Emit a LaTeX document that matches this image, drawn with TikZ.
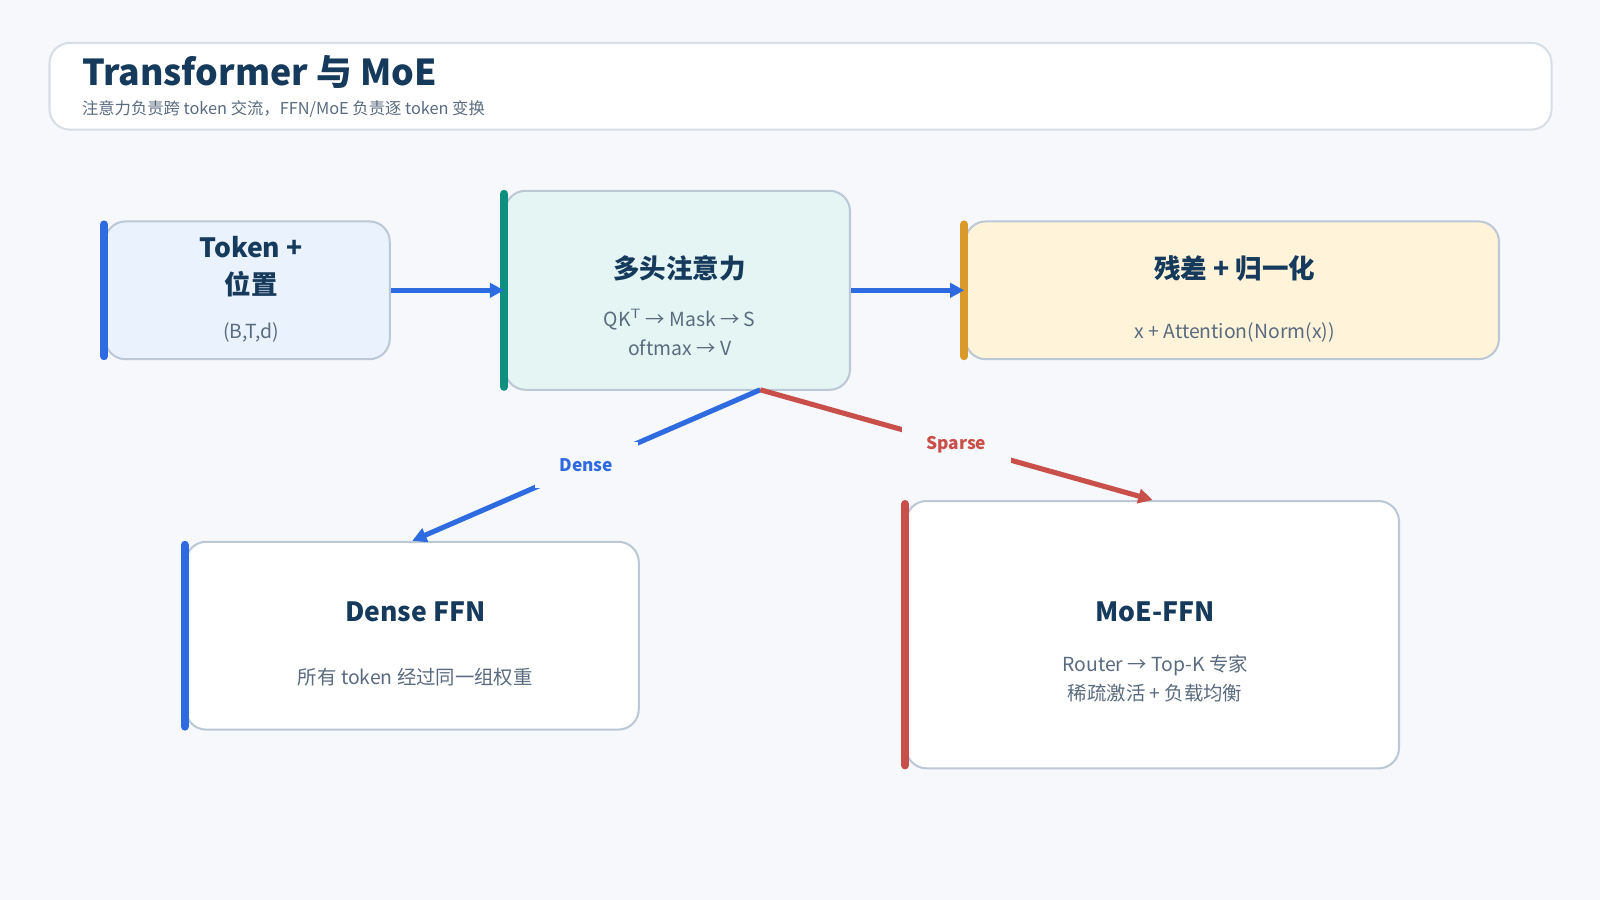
\documentclass[tikz,border=0pt]{standalone}
\usepackage{fontspec}
\setmainfont{Noto Sans CJK SC}
\usetikzlibrary{arrows.meta}
\definecolor{ink}{HTML}{163A5C}
\definecolor{muted}{HTML}{5A6B7F}
\definecolor{edge}{HTML}{BCC8D6}
\definecolor{page}{HTML}{F6F8FB}
\definecolor{bluebar}{HTML}{2F6BE0}
\definecolor{tealbar}{HTML}{0E8F80}
\definecolor{goldbar}{HTML}{D99A2B}
\definecolor{redbar}{HTML}{C9504A}
\definecolor{bluefill}{HTML}{EAF2FE}
\definecolor{tealfill}{HTML}{E5F5F3}
\definecolor{goldfill}{HTML}{FFF3DA}
\tikzset{
  box/.style={draw=edge,line width=1pt,rounded corners=10pt,align=center,inner sep=0pt},
  bar/.style={line width=4pt,line cap=round,shorten <=2pt,shorten >=2pt},
  flow/.style={line width=2.5pt,-{Triangle[length=7pt,width=7pt]}},
  tag/.style={fill=page,font=\bfseries\fontsize{8.5}{10}\selectfont,inner xsep=12pt,inner ysep=8pt},
}
\begin{document}
\begin{tikzpicture}[x=0.5pt,y=-0.5pt]
        \fill[page] (0,0) rectangle (1568,882);
        \useasboundingbox (0,0) rectangle (1568,882);

        % header
        \node[box,fill=white,draw=edge!60,minimum width=736pt,minimum height=42.5pt] (head) at (784.5,84.5) {};
        \node[anchor=west,inner sep=0pt,text=ink,font=\bfseries\fontsize{17.5}{20}\selectfont] (title) at (80,71) {Transformer 与 MoE};
        \node[anchor=west,inner sep=0pt,text=muted,font=\fontsize{8}{10}\selectfont] (sub) at (80,107) {注意力负责跨 token 交流，FFN/MoE 负责逐 token 变换};

        % blocks
        \node[box,fill=bluefill,minimum width=139.5pt,minimum height=67.5pt] (tok) at (242.5,284.5) {};
        \node[text=ink,font=\bfseries\fontsize{13}{18}\selectfont,align=center] (tokt) at (246,261) {Token +\\位置};
        \node[text=muted,font=\fontsize{9.5}{12}\selectfont] (toks) at (246,326) {(B,T,d)};
        \draw[bar,bluebar] (tok.south west) -- (tok.north west);

        \node[box,fill=tealfill,minimum width=169pt,minimum height=97.5pt] (attn) at (664,284.5) {};
        \node[text=ink,font=\bfseries\fontsize{13}{16}\selectfont] (attnt) at (666,263) {多头注意力};
        \node[text=muted,font=\fontsize{9.5}{14.5}\selectfont,align=center] (attns) at (666,326) {QK$^{\mathsf{T}}$ → Mask → S\\oftmax → V};
        \draw[bar,tealbar] (attn.south west) -- (attn.north west);

        \node[box,fill=goldfill,minimum width=261.5pt,minimum height=67.5pt] (res) at (1207.5,284.5) {};
        \node[text=ink,font=\bfseries\fontsize{13}{16}\selectfont] (rest) at (1210,263) {残差 + 归一化};
        \node[text=muted,font=\fontsize{9.5}{12}\selectfont] (ress) at (1210,326) {x + Attention(Norm(x))};
        \draw[bar,goldbar] (res.south west) -- (res.north west);

        \node[box,fill=white,minimum width=222pt,minimum height=92pt] (dense) at (404,623) {};
        \node[text=ink,font=\bfseries\fontsize{13}{16}\selectfont] (denset) at (407,600) {Dense FFN};
        \node[text=muted,font=\fontsize{9.5}{12}\selectfont] (denses) at (407,664) {所有 token 经过同一组权重};
        \draw[bar,bluebar] (dense.south west) -- (dense.north west);

        \node[box,fill=white,minimum width=241.5pt,minimum height=131pt] (moe) at (1129.5,622) {};
        \node[text=ink,font=\bfseries\fontsize{13}{16}\selectfont] (moet) at (1132,600) {MoE-FFN};
        \node[text=muted,font=\fontsize{9.5}{14.5}\selectfont,align=center] (moes) at (1132,665) {Router → Top-K 专家\\稀疏激活 + 负载均衡};
        \draw[bar,redbar] (moe.south west) -- (moe.north west);

        % connectors
        \draw[flow,bluebar] (tok.east) -- (attn.west);
        \draw[flow,bluebar] (attn.east) -- (res.west);
        \coordinate (split) at (745,382);
        \draw[flow,bluebar] (split) -- node[tag,text=bluebar] {Dense} (dense.north);
        \draw[flow,redbar] (split) -- node[tag,text=redbar] {Sparse} (moe.north);
    \end{tikzpicture}
\end{document}
